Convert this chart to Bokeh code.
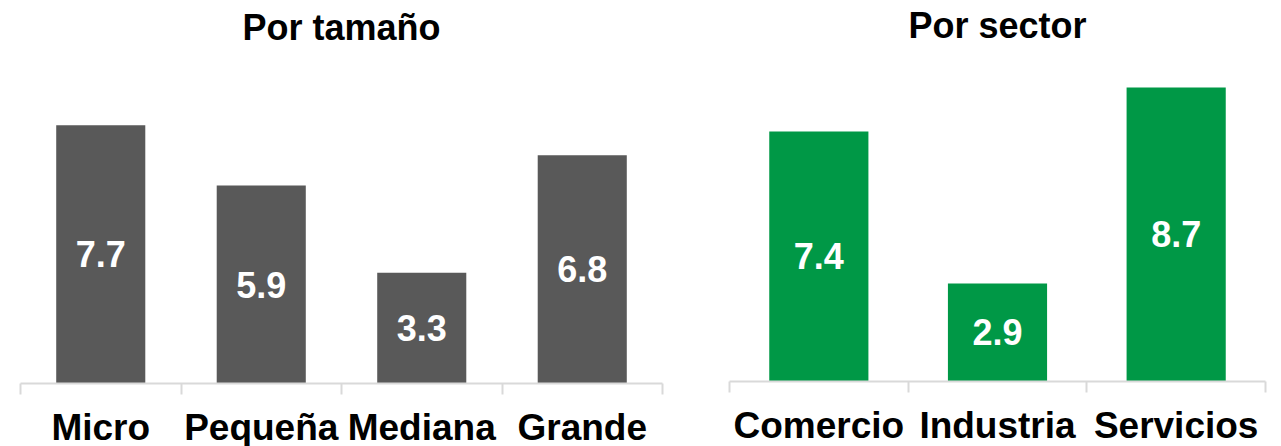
import numpy as np
from bokeh.plotting import figure
from bokeh.layouts import row
from bokeh.models import Range1d, FixedTicker, ColumnDataSource
from bokeh.core.properties import value
from bokeh.embed import file_html
from bokeh.resources import INLINE

# ---- data ----
size_title = "Por tamaño"
size_categories = ["Micro", "Pequeña", "Mediana", "Grande"]
size_values = [7.7, 5.9, 3.3, 6.8]

sector_title = "Por sector"
sector_categories = ["Comercio", "Industria", "Servicios"]
sector_values = [7.4, 2.9, 8.7]

FONT = "Liberation Sans"
GRAY = "#595959"
GREEN = "#009846"
AXIS = "#d9d9d9"


def panel(title, cats, vals, color, px_per_unit, frame_w, frame_h, bl, br,
          title_px):
    """frame spans from figure top to the axis; title_px = distance of the
    title anchor from the figure top."""
    n = len(cats)
    x = np.arange(n) + 0.5
    y_end = frame_h / px_per_unit
    src = ColumnDataSource(dict(
        x=x, top=vals, mid=np.array(vals) / 2.0,
        label=[f"{v:.1f}" for v in vals]))
    p = figure(frame_width=frame_w, frame_height=frame_h,
               x_range=Range1d(0, n), y_range=Range1d(0, y_end),
               output_backend="svg", toolbar_location=None,
               min_border_left=bl, min_border_right=br,
               min_border_top=0, min_border_bottom=0)
    p.vbar(x="x", top="top", width=0.555, source=src,
           fill_color=color, line_color=None)
    p.text(x="x", y="mid", text="label", source=src,
           text_color="white", text_font=value(FONT),
           text_font_style="bold", text_font_size="36px",
           text_align="center", text_baseline="middle")

    # panel title, centred over the frame
    p.text(x=[n / 2.0], y=[(frame_h - title_px) / px_per_unit], text=[title],
           text_color="black", text_font=value(FONT),
           text_font_style="bold", text_font_size="36px",
           text_align="center", text_baseline="alphabetic")

    ax = p.xaxis[0]
    ax.ticker = FixedTicker(ticks=[float(v) for v in x],
                            minor_ticks=[float(i) for i in range(n + 1)])
    ax.major_label_overrides = {float(xi): c for xi, c in zip(x, cats)}
    ax.axis_line_color = AXIS
    ax.axis_line_width = 2
    ax.major_tick_line_color = None
    ax.major_tick_in = 0
    ax.major_tick_out = 0
    ax.minor_tick_in = 0
    ax.minor_tick_out = 11
    ax.minor_tick_line_color = AXIS
    ax.minor_tick_line_width = 2
    ax.major_label_text_font = FONT
    ax.major_label_text_font_size = "37px"
    ax.major_label_text_font_style = "bold"
    ax.major_label_text_color = "black"
    ax.major_label_standoff = 12

    p.yaxis.visible = False
    p.xgrid.visible = False
    p.ygrid.visible = False
    p.outline_line_color = None
    return p


p1 = panel(size_title, size_categories, size_values, GRAY,
           px_per_unit=33.55, frame_w=642, frame_h=383,
           bl=20, br=36, title_px=27)
p2 = panel(sector_title, sector_categories, sector_values, GREEN,
           px_per_unit=33.8, frame_w=536, frame_h=381,
           bl=31, br=8, title_px=25)

layout = row(p1, p2)
open("out.html", "w").write(file_html(layout, INLINE))
